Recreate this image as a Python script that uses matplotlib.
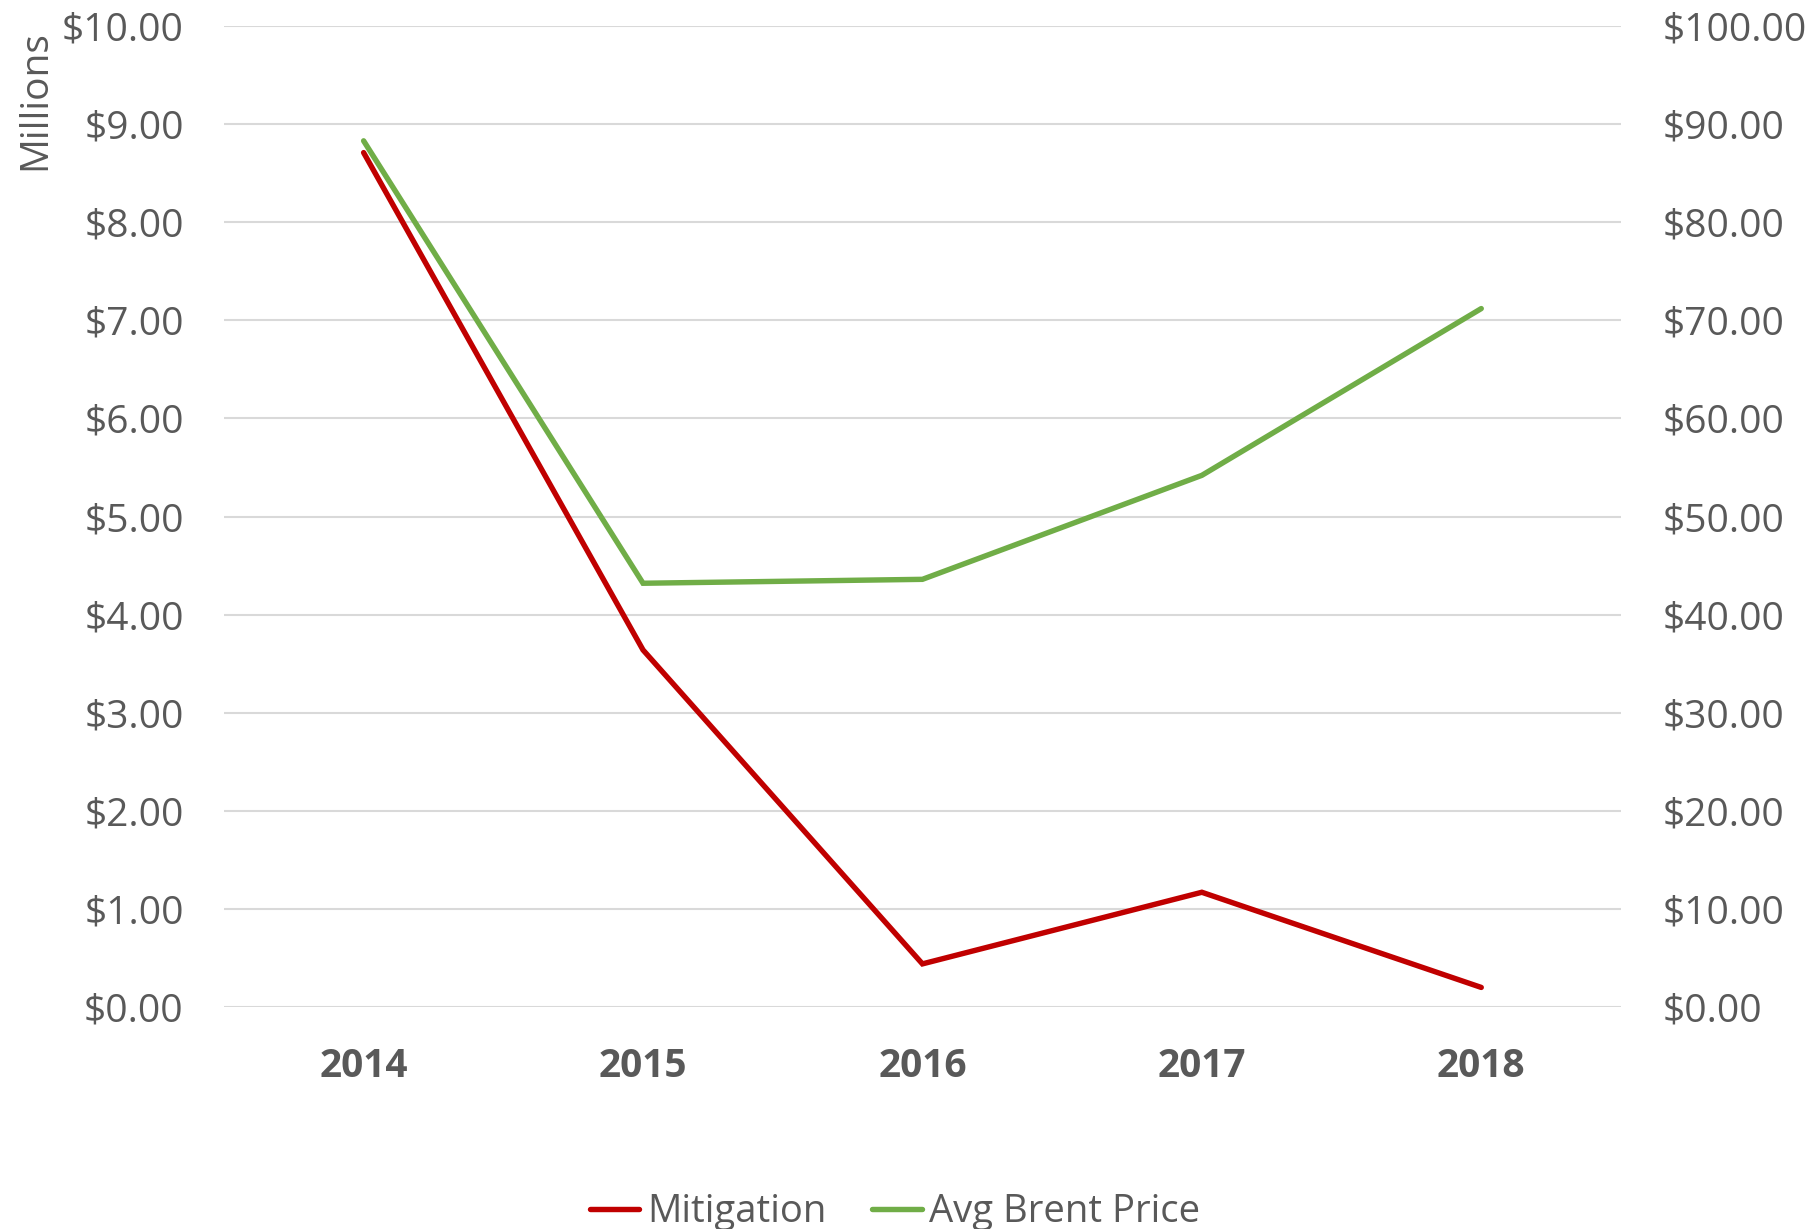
import matplotlib
matplotlib.use("Agg")
import matplotlib.pyplot as plt
from matplotlib.ticker import FuncFormatter, MultipleLocator

years = ["2014", "2015", "2016", "2017", "2018"]
mitigation = [8.71, 3.64, 0.44, 1.17, 0.20]        # millions of $
brent = [88.3, 43.2, 43.6, 54.2, 71.2]             # $ per barrel

RED = "#C00000"
GREEN = "#70AD47"
TXT = "#595959"
GRID = "#D9D9D9"

plt.rcParams['font.family'] = ['Open Sans', 'DejaVu Sans']

fig = plt.figure(figsize=(18.16, 12.29), dpi=100)
ax = fig.add_axes([0.1233, 0.1806, 0.8926 - 0.1233, 0.9788 - 0.1806])
ax2 = ax.twinx()

x = list(range(len(years)))
l1, = ax.plot(x, mitigation, color=RED, lw=3.9, solid_capstyle='round', solid_joinstyle='miter', label="Mitigation", zorder=3)
l2, = ax2.plot(x, brent, color=GREEN, lw=3.9, solid_capstyle='round', solid_joinstyle='miter', label="Avg Brent Price", zorder=3)

ax.set_xlim(-0.5, 4.5)
ax.set_ylim(0, 10)
ax2.set_ylim(0, 100)
ax.yaxis.set_major_locator(MultipleLocator(1))
ax2.yaxis.set_major_locator(MultipleLocator(10))
fmt = FuncFormatter(lambda v, p: f"${v:,.2f}")
ax.yaxis.set_major_formatter(fmt)
ax2.yaxis.set_major_formatter(fmt)

ax.set_xticks(x)
ax.set_xticklabels(years, fontweight='bold')

ax.grid(axis='y', color=GRID, lw=1.5, zorder=0)
ax.set_axisbelow(True)
for a in (ax, ax2):
    for s in a.spines.values():
        s.set_visible(False)
    a.tick_params(length=0, labelsize=28, colors=TXT)
ax.tick_params(axis='y', pad=29)
ax2.tick_params(axis='y', pad=30)
ax.tick_params(axis='x', pad=29)

fig.text(35 / 1816, 1 - 100 / 1229, "Millions", rotation=90, ha='center', va='center',
         fontsize=28, color=TXT)

leg = fig.legend(handles=[l1, l2], loc='center', bbox_to_anchor=(895 / 1816, 1 - 1212 / 1229),
                 ncol=2, frameon=False, fontsize=27.5, handlelength=1.3, handletextpad=0.2,
                 columnspacing=1.2)
for t in leg.get_texts():
    t.set_color(TXT)

fig.savefig("out.png", dpi=100)
